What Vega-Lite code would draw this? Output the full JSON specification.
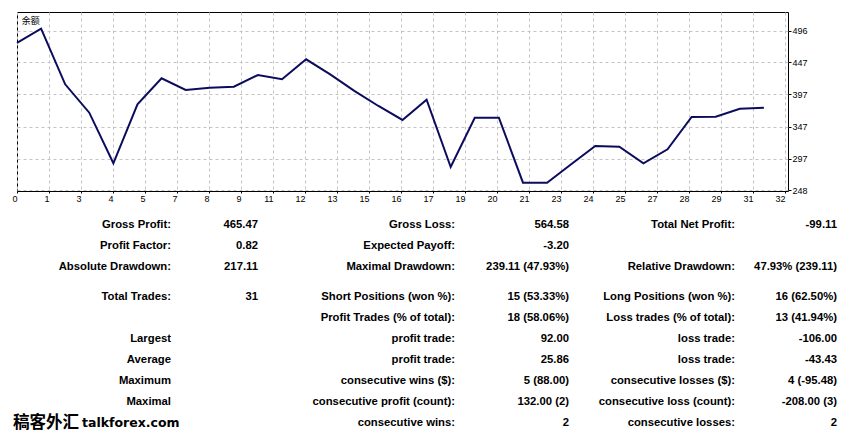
{
  "$schema": "https://vega.github.io/schema/vega-lite/v6.json",
  "background": "white",
  "padding": {"left": 11, "top": 11, "right": 4, "bottom": 0},
  "config": {"view": {"stroke": null}},
  "bounds": "flush",
  "spacing": 23.5,
  "datasets": {
    "balance": [
      {"trade": 0, "balance": 476.9}, {"trade": 1, "balance": 498.9}, {"trade": 2, "balance": 412.6},
      {"trade": 3, "balance": 368.6}, {"trade": 4, "balance": 290.2}, {"trade": 5, "balance": 381.6},
      {"trade": 6, "balance": 421.9}, {"trade": 7, "balance": 403.8}, {"trade": 8, "balance": 407.3},
      {"trade": 9, "balance": 408.9}, {"trade": 10, "balance": 427.0}, {"trade": 11, "balance": 420.4},
      {"trade": 12, "balance": 451.4}, {"trade": 13, "balance": 428.0}, {"trade": 14, "balance": 402.5},
      {"trade": 15, "balance": 379.0}, {"trade": 16, "balance": 357.3}, {"trade": 17, "balance": 388.7},
      {"trade": 18, "balance": 284.4}, {"trade": 19, "balance": 360.8}, {"trade": 20, "balance": 360.8},
      {"trade": 21, "balance": 260.1}, {"trade": 22, "balance": 259.8}, {"trade": 23, "balance": 288.6},
      {"trade": 24, "balance": 317.0}, {"trade": 25, "balance": 315.9}, {"trade": 26, "balance": 290.2},
      {"trade": 27, "balance": 311.9}, {"trade": 28, "balance": 361.9}, {"trade": 29, "balance": 362.4},
      {"trade": 30, "balance": 374.8}, {"trade": 31, "balance": 376.3}
    ],
    "stats": [
      {"block": 1, "row": 0, "col": 0, "text": "Gross Profit:"},
      {"block": 1, "row": 0, "col": 1, "text": "465.47"},
      {"block": 1, "row": 0, "col": 2, "text": "Gross Loss:"},
      {"block": 1, "row": 0, "col": 3, "text": "564.58"},
      {"block": 1, "row": 0, "col": 4, "text": "Total Net Profit:"},
      {"block": 1, "row": 0, "col": 5, "text": "-99.11"},
      {"block": 1, "row": 1, "col": 0, "text": "Profit Factor:"},
      {"block": 1, "row": 1, "col": 1, "text": "0.82"},
      {"block": 1, "row": 1, "col": 2, "text": "Expected Payoff:"},
      {"block": 1, "row": 1, "col": 3, "text": "-3.20"},
      {"block": 1, "row": 2, "col": 0, "text": "Absolute Drawdown:"},
      {"block": 1, "row": 2, "col": 1, "text": "217.11"},
      {"block": 1, "row": 2, "col": 2, "text": "Maximal Drawdown:"},
      {"block": 1, "row": 2, "col": 3, "text": "239.11 (47.93%)"},
      {"block": 1, "row": 2, "col": 4, "text": "Relative Drawdown:"},
      {"block": 1, "row": 2, "col": 5, "text": "47.93% (239.11)"},
      {"block": 2, "row": 0, "col": 0, "text": "Total Trades:"},
      {"block": 2, "row": 0, "col": 1, "text": "31"},
      {"block": 2, "row": 0, "col": 2, "text": "Short Positions (won %):"},
      {"block": 2, "row": 0, "col": 3, "text": "15 (53.33%)"},
      {"block": 2, "row": 0, "col": 4, "text": "Long Positions (won %):"},
      {"block": 2, "row": 0, "col": 5, "text": "16 (62.50%)"},
      {"block": 2, "row": 1, "col": 2, "text": "Profit Trades (% of total):"},
      {"block": 2, "row": 1, "col": 3, "text": "18 (58.06%)"},
      {"block": 2, "row": 1, "col": 4, "text": "Loss trades (% of total):"},
      {"block": 2, "row": 1, "col": 5, "text": "13 (41.94%)"},
      {"block": 2, "row": 2, "col": 0, "text": "Largest"},
      {"block": 2, "row": 2, "col": 2, "text": "profit trade:"},
      {"block": 2, "row": 2, "col": 3, "text": "92.00"},
      {"block": 2, "row": 2, "col": 4, "text": "loss trade:"},
      {"block": 2, "row": 2, "col": 5, "text": "-106.00"},
      {"block": 2, "row": 3, "col": 0, "text": "Average"},
      {"block": 2, "row": 3, "col": 2, "text": "profit trade:"},
      {"block": 2, "row": 3, "col": 3, "text": "25.86"},
      {"block": 2, "row": 3, "col": 4, "text": "loss trade:"},
      {"block": 2, "row": 3, "col": 5, "text": "-43.43"},
      {"block": 2, "row": 4, "col": 0, "text": "Maximum"},
      {"block": 2, "row": 4, "col": 2, "text": "consecutive wins ($):"},
      {"block": 2, "row": 4, "col": 3, "text": "5 (88.00)"},
      {"block": 2, "row": 4, "col": 4, "text": "consecutive losses ($):"},
      {"block": 2, "row": 4, "col": 5, "text": "4 (-95.48)"},
      {"block": 2, "row": 5, "col": 0, "text": "Maximal"},
      {"block": 2, "row": 5, "col": 2, "text": "consecutive profit (count):"},
      {"block": 2, "row": 5, "col": 3, "text": "132.00 (2)"},
      {"block": 2, "row": 5, "col": 4, "text": "consecutive loss (count):"},
      {"block": 2, "row": 5, "col": 5, "text": "-208.00 (3)"},
      {"block": 2, "row": 6, "col": 2, "text": "consecutive wins:"},
      {"block": 2, "row": 6, "col": 3, "text": "2"},
      {"block": 2, "row": 6, "col": 4, "text": "consecutive losses:"},
      {"block": 2, "row": 6, "col": 5, "text": "2"}
    ],
    "wm": [
      {"row": 6, "col": -2, "text": "稿客外汇", "kind": "cjk"},
      {"row": 6, "col": -1, "text": "talkforex.com", "kind": "latin"}
    ]
  },
  "vconcat": [
    {
      "width": 771,
      "height": 179,
      "view": {"stroke": "#000000", "strokeWidth": 1},
      "layer": [
        {
          "data": {"name": "balance"},
          "mark": {"type": "line", "color": "#0c0c5e", "strokeWidth": 2},
          "encoding": {
            "x": {
              "field": "trade", "type": "quantitative",
              "scale": {"domain": [0, 32], "nice": false, "zero": false},
              "axis": {
                "values": [0, 1.328, 2.656, 3.984, 5.313, 6.641, 7.969, 9.297, 10.625, 11.953, 13.281, 14.609, 15.938, 17.266, 18.594, 19.922, 21.25, 22.578, 23.906, 25.234, 26.563, 27.891, 29.219, 30.547, 31.875],
                "tickCount": 200,
                "labelExpr": "format(round(datum.value), 'd')",
                "title": null, "domain": false,
                "grid": true, "gridDash": [3, 3], "gridColor": "#c4c4c4", "gridWidth": 1,
                "ticks": true, "tickSize": 2, "tickColor": "#000000",
                "labelFont": "Liberation Sans", "labelFontSize": 9, "labelColor": "#000000",
                "labelAlign": "right", "labelFlush": true, "labelPadding": 1, "labelOverlap": false
              }
            },
            "y": {
              "field": "balance", "type": "quantitative",
              "scale": {"domain": [247.2, 524.7], "nice": false, "zero": false},
              "axis": {
                "orient": "right",
                "values": [248, 297, 347, 397, 447, 496],
                "tickCount": 50,
                "title": null, "domain": false,
                "grid": true, "gridDash": [3, 3], "gridColor": "#c4c4c4", "gridWidth": 1,
                "ticks": true, "tickSize": 3, "tickColor": "#000000",
                "labelFont": "Liberation Sans", "labelFontSize": 9, "labelColor": "#000000",
                "labelPadding": 1, "labelBaseline": "middle", "labelOverlap": false
              }
            }
          }
        },
        {
          "data": {"values": [{}]},
          "mark": {"type": "text", "text": "余额", "align": "left", "baseline": "middle", "font": "Noto Sans CJK SC", "fontSize": 9, "color": "#000000"},
          "encoding": {
            "x": {"datum": 0.2, "type": "quantitative"},
            "y": {"datum": 511, "type": "quantitative"}
          }
        }
      ]
    },
    {
      "bounds": "flush",
      "spacing": 9,
      "vconcat": [
        {
          "width": 822,
          "height": 63,
          "data": {"name": "stats"},
          "transform": [{"filter": "datum.block == 1"}],
          "mark": {"type": "text", "align": "right", "baseline": "middle", "font": "Liberation Sans", "fontSize": 11.3, "fontWeight": "bold", "color": "#000000"},
          "encoding": {
            "x": {"field": "col", "type": "quantitative", "scale": {"domain": [-2, -1, 0, 1, 2, 3, 4, 5], "range": [-4, 65, 154, 241, 438, 552, 718, 820]}, "axis": null},
            "y": {"field": "row", "type": "ordinal", "scale": {"type": "point", "padding": 0.5}, "axis": null},
            "text": {"field": "text"}
          }
        },
        {
          "width": 822,
          "height": 147,
          "encoding": {
            "x": {"field": "col", "type": "quantitative", "scale": {"domain": [-2, -1, 0, 1, 2, 3, 4, 5], "range": [-4, 65, 154, 241, 438, 552, 718, 820]}, "axis": null},
            "y": {"field": "row", "type": "ordinal", "scale": {"type": "point", "padding": 0.5}, "axis": null},
            "text": {"field": "text"}
          },
          "layer": [
            {
              "data": {"name": "stats"},
              "transform": [{"filter": "datum.block == 2"}],
              "mark": {"type": "text", "align": "right", "baseline": "middle", "font": "Liberation Sans", "fontSize": 11.3, "fontWeight": "bold", "color": "#000000"}
            },
            {
              "data": {"name": "wm"},
              "transform": [{"filter": "datum.kind == 'cjk'"}],
              "mark": {"type": "text", "align": "left", "baseline": "middle", "font": "Noto Sans CJK SC", "fontSize": 16.5, "fontWeight": "bold", "color": "#000000"}
            },
            {
              "data": {"name": "wm"},
              "transform": [{"filter": "datum.kind == 'latin'"}],
              "mark": {"type": "text", "align": "left", "baseline": "middle", "font": "DejaVu Sans", "fontSize": 12.5, "fontWeight": "bold", "color": "#000000"}
            }
          ]
        }
      ]
    }
  ]
}
